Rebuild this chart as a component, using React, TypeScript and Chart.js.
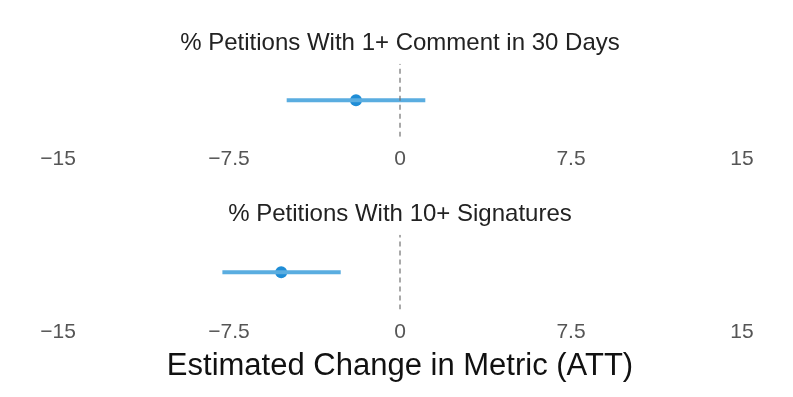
import React, { useEffect, useRef } from "react";
import { Chart, registerables } from "chart.js";

Chart.register(...registerables);

const panelTitles = ["% Petitions With 1+ Comment in 30 Days", "% Petitions With 10+ Signatures"];
const estimates = [-1.93, -5.21];
const lowerBounds = [-4.97, -7.79];
const upperBounds = [1.11, -2.6];
const tickValues = [-15, -7.5, 0, 7.5, 15];
const tickLabels = ["\u221215", "\u22127.5", "0", "7.5", "15"];
const axisTitle = "Estimated Change in Metric (ATT)";

const FONT = "'Liberation Sans', Arial, Helvetica, sans-serif";

function Panel({ idx, top, height, withAxisTitle }: { idx: number; top: number; height: number; withAxisTitle: boolean }) {
  const ref = useRef<HTMLCanvasElement>(null);
  useEffect(() => {
    if (!ref.current) return;
    const chart = new Chart(ref.current, {
      type: "line",
      data: {
        datasets: [
          {
            data: [{ x: 0, y: 0 }, { x: 0, y: 1 }],
            borderColor: "#707070",
            borderWidth: 1.2,
            borderDash: [5, 4],
            pointRadius: 0,
          },
          {
            data: [{ x: lowerBounds[idx], y: 0.5 }, { x: upperBounds[idx], y: 0.5 }],
            borderColor: "#5aade0",
            borderWidth: 4,
            pointRadius: 0,
            borderCapStyle: "butt",
          },
          {
            data: [{ x: estimates[idx], y: 0.5 }],
            showLine: false,
            pointRadius: 6,
            pointBackgroundColor: "#1f8dd6",
            pointBorderColor: "#1f8dd6",
            pointBorderWidth: 0,
          },
        ],
      },
      options: {
        animation: false,
        responsive: false,
        maintainAspectRatio: false,
        events: [],
        layout: { padding: { left: 58, right: 51, top: 0, bottom: withAxisTitle ? 12 : 9 } },
        plugins: {
          legend: { display: false },
          tooltip: { enabled: false },
          title: {
            display: true,
            text: panelTitles[idx],
            color: "#222222",
            font: { family: FONT, size: 24, weight: "normal" },
            padding: { top: 29, bottom: 6 },
          },
        },
        scales: {
          x: {
            type: "linear",
            min: -15,
            max: 15,
            afterBuildTicks: (axis: any) => {
              axis.ticks = tickValues.map((v) => ({ value: v }));
            },
            ticks: {
              color: "#555555",
              font: { family: FONT, size: 21 },
              padding: 10,
              maxRotation: 0,
              autoSkip: false,
              callback: (v: any) => {
                const i = tickValues.indexOf(Number(v));
                return i >= 0 ? tickLabels[i] : "";
              },
            },
            grid: { display: false, drawTicks: false },
            border: { display: false },
            title: {
              display: withAxisTitle,
              text: axisTitle,
              color: "#111111",
              font: { family: FONT, size: 31 },
              padding: { top: -7, bottom: 0 },
            },
          },
          y: {
            type: "linear",
            min: 0,
            max: 1,
            display: false,
          },
        },
      },
    } as any);
    return () => chart.destroy();
  }, [idx, withAxisTitle]);
  return (
    <div style={{ position: "absolute", left: 0, top, width: 793, height }}>
      <canvas ref={ref} width={793} height={height} style={{ width: 793, height }} />
    </div>
  );
}

export default function App() {
  return (
    <div style={{ position: "fixed", left: 0, top: 0, width: 793, height: 397, background: "#ffffff", overflow: "hidden" }}>
      <Panel idx={0} top={0} height={191} withAxisTitle={false} />
      <Panel idx={1} top={171} height={226} withAxisTitle={true} />
    </div>
  );
}
